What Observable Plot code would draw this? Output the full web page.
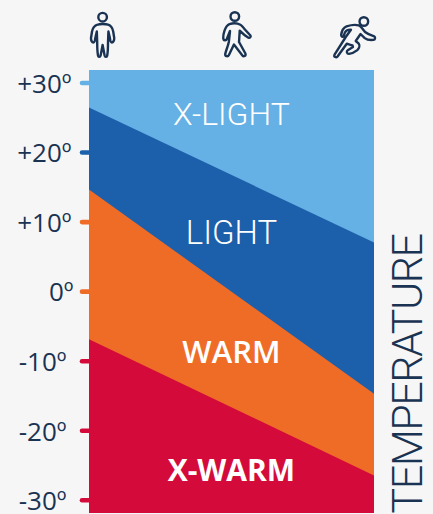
<!DOCTYPE html>
<html><head><meta charset="utf-8">
<script src="https://cdn.jsdelivr.net/npm/d3@7"></script>
<script src="https://cdn.jsdelivr.net/npm/@observablehq/plot@0.6"></script>
<style>html,body{margin:0;padding:0;background:#f6f6f6;overflow:hidden}svg{display:block}
.temp-title text{letter-spacing:-1.5px}</style>
</head><body><div id="chart"></div>
<script>
const INK = "#1a3353";
const effort = [0, 1];
const tempTop = [31.8, 31.8];
const xLightLower = [26.4, 7.0];
const lightLower = [14.6, -14.75];
const warmLower = [-6.9, -26.5];
const tempBottom = [-31.9, -31.9];
const bandNames = ["X-LIGHT", "LIGHT", "WARM", "X-WARM"];
const bandColors = ["#65b0e4", "#1c5faa", "#ef6c27", "#d40b3a"];
const bandLabelTemp = [25.4, 8.3, -8.8, -25.9];
const tempTicks = [30, 20, 10, 0, -10, -20, -30];
const tickColors = ["#65b0e4", "#1c5faa", "#ef6c27", "#ef6c27", "#d40b3a", "#d40b3a", "#d40b3a"];
const tickText = ["+30º", "+20º", "+10º", "0º", "-10º", "-20º", "-30º"];

// Activity glyphs: outline drawings, placed by the x scale.
const iconEffort = [0.046, 0.512, 0.93];
const iconGlyphs = [
  {box:"77 10 50 50", head:[102,16.7], body:"M97 24.2C99 23.2 105 23.2 107.5 24.2C110.5 25.2 112 28 112.6 31L113.6 37.5C113.8 40 112.6 42 111.2 42C109.8 42 109.6 40 109.4 38L107.8 31L107.4 42C107.4 47 107.2 52 106.6 55C106 56.8 104.4 56.8 104 55L102 44.5L100 55C99.6 56.8 98 56.8 97.4 55C96.8 52 96.6 47 96.6 42L96.2 31L94.6 38C94.4 40 94.2 42 92.8 42C91.4 42 90.2 40 90.4 37.5L91.4 31C92 28 93.5 25.2 97 24.2Z"},
  {box:"210 10 50 50", head:[234.4,16], body:"M229 23.6C232 22.6 237 22.6 240 24.2C241.5 25 243 27 244.5 29L250 35C250.8 36.2 249.5 37.8 248 37.2C245 35.5 241.5 32.5 239.3 30.2L238.6 41.5L245 53C245.8 55.5 243.2 56.5 242 55L233.5 44L228.5 54.5C227.5 56.5 224.6 56 224.8 53.5C225.5 50 227.5 46 228.4 41.5L229.6 30.5L226.4 38.5C225.6 40.5 223 40 222.8 37.8C222.6 34 224.6 25.2 229 23.6Z"},
  {box:"328 10 50 50", head:[362.3,21], body:"M339.6 34.6C340 31 342 27 345 25.8C349 24.5 354 24 357.2 24.8C359.5 25.6 361.5 29 363.5 31.5C366 33.5 370 35 372.6 35.8C374.2 36.8 373.6 39.2 371.8 39.4C368 39.8 365.5 39.4 363.2 37.6L359 33.5L354.2 40.5L357.2 43.2C358.4 45 357.6 48 355.8 49.6C353.5 51.4 350 53 347.4 53.4C345.2 53.4 344.6 50.8 346.2 49.8L351.4 46.6L351 45C349 44.5 347 43.8 345.2 43.2L336 56C334.5 57.6 332 56.4 333 54.2L344.2 36.5L349.4 29.2C347 29 344.6 30 343.4 31.8L342 35.8C341.2 37 339.6 36 339.6 34.6Z"}
];
const iconHref = ({box, head, body}) =>
  "data:image/svg+xml," + encodeURIComponent(
    `<svg xmlns="http://www.w3.org/2000/svg" viewBox="${box}" width="50" height="50"><g fill="none" stroke="${INK}" stroke-width="2.4" stroke-linejoin="round"><circle cx="${head[0]}" cy="${head[1]}" r="4.3"/><path d="${body}"/></g></svg>`);

// Each band is painted down to the bottom of the frame, the next one over it, so no seam shows.
const upperEdges = [tempTop, xLightLower, lightLower, warmLower];
const bandRows = upperEdges.flatMap((upper, i) =>
  effort.map((e, j) => ({band: i, e, upper: upper[j], lower: tempBottom[j]})));
const tickRows = tempTicks.map((t, i) => ({t, color: tickColors[i], label: tickText[i]}));
const labelRows = bandNames.map((name, i) => ({name, t: bandLabelTemp[i]}));
const iconRows = iconGlyphs.map((g, i) => ({e: iconEffort[i], href: iconHref(g)}));

const tickLabelMark = (rows, padding) => Plot.axisY(rows.map(d => d.t), {
  anchor: "left", tickSize: 0, tickPadding: padding, fill: INK, stroke: "none", label: null, dy: 1.5,
  tickFormat: t => tickText[tempTicks.indexOf(t)], fontFamily: "'Open Sans'", fontSize: 26
});

const chart = Plot.plot({
  width: 433, height: 514,
  marginLeft: 89, marginRight: 59, marginTop: 70, marginBottom: 1,
  style: {background: "#f6f6f6", overflow: "visible"},
  x: {domain: [0, 1], axis: null},
  y: {domain: [-31.9, 31.8], axis: null},
  marks: [
    ...upperEdges.map((_, i) => Plot.areaY(bandRows.filter(d => d.band === i), {
      x: "e", y1: "lower", y2: "upper", fill: bandColors[i]
    })),
    Plot.ruleY(tickRows, {y: "t", x1: -0.0245, x2: 0, stroke: "color", strokeWidth: 4.6, strokeLinecap: "round"}),
    tickLabelMark(tickRows.filter(d => d.t > 0), 18),
    tickLabelMark(tickRows.filter(d => d.t === 0), 16),
    tickLabelMark(tickRows.filter(d => d.t < 0), 23),
    Plot.text(labelRows.slice(0, 1), {x: () => 0.498, y: "t", text: "name", fill: "white",
      fontFamily: "Roboto", fontWeight: 300, fontSize: 32}),
    Plot.text(labelRows.slice(1, 2), {x: () => 0.498, y: "t", text: "name", fill: "white",
      fontFamily: "Roboto", fontWeight: 300, fontSize: 33}),
    Plot.text(labelRows.slice(2, 3), {x: () => 0.498, y: "t", text: "name", fill: "white",
      fontFamily: "'Open Sans'", fontWeight: 600, fontSize: 31}),
    Plot.text(labelRows.slice(3), {x: () => 0.498, y: "t", text: "name", fill: "white",
      fontFamily: "'Open Sans'", fontWeight: 700, fontSize: 30}),
    Plot.image(iconRows, {x: "e", frameAnchor: "top", dy: -35, width: 50, height: 50, src: "href"}),
    Plot.text(["TEMPERATURE"], {frameAnchor: "bottom-right", rotate: -90, textAnchor: "start", className: "temp-title",
      dx: 47, dy: 0, fill: INK, fontFamily: "Roboto", fontWeight: 300, fontSize: 43})
  ]
});
document.getElementById("chart").append(chart);
</script></body></html>
